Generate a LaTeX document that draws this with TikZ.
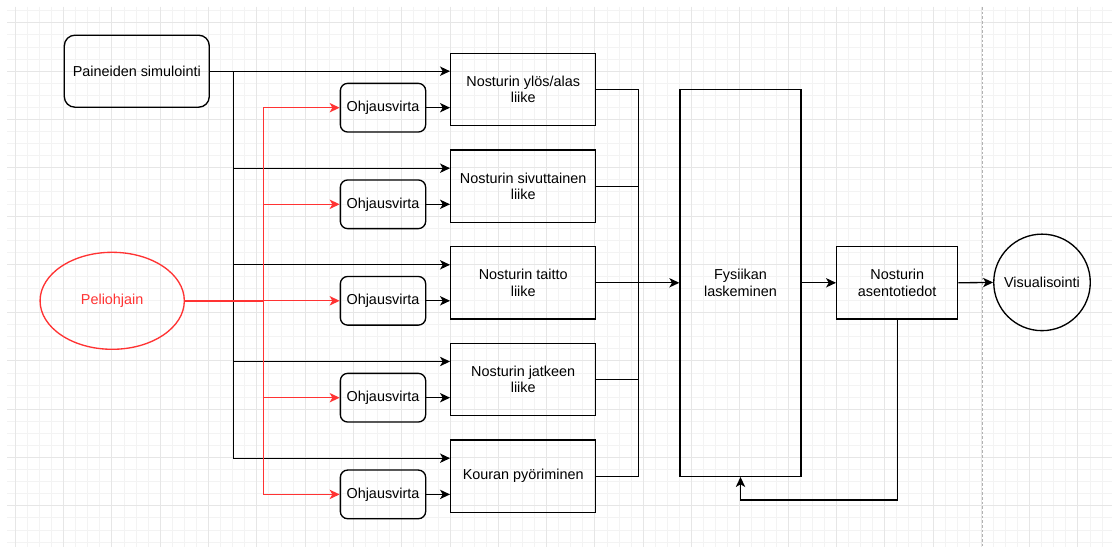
\documentclass[tikz,border=0pt]{standalone}
\usepackage{fontspec}
\setmainfont{Liberation Sans}
\usetikzlibrary{arrows.meta,shapes.geometric}
\definecolor{pelired}{HTML}{FF3333}
\definecolor{gridminor}{HTML}{F3F3F3}
\definecolor{gridmajor}{HTML}{E6E6E6}

\begin{document}
\begin{tikzpicture}[x=0.75pt,y=-0.75pt,
  font=\fontsize{10.8}{12.5}\selectfont,
  block/.style={draw, line width=1pt, align=center, inner sep=0pt},
  motion/.style={block, minimum width=108.75pt, minimum height=54.2pt},
  ctrl/.style={block, rounded corners=5.5pt, minimum width=64pt, minimum height=36.5pt},
  line/.style={draw, line width=1pt},
  flow/.style={line, ->, >={Stealth[length=7.5pt,width=7pt,inset=2pt]}},
  redflow/.style={flow, draw=pelired}]
\useasboundingbox (0,0) rectangle (1112,549);
\fill[white] (0,0) rectangle (1112,549);

% grid
\foreach \k in {1,...,91} \draw[gridminor,line width=0.75pt] ({3.3+12.075*\k},7) -- ({3.3+12.075*\k},547);
\foreach \k in {0,...,44} \draw[gridminor,line width=0.75pt] (7,{10.8+12.075*\k}) -- (1112,{10.8+12.075*\k});
\foreach \k in {1,5,...,89} \draw[gridmajor,line width=0.75pt] ({3.3+12.075*\k},7) -- ({3.3+12.075*\k},547);
\foreach \k in {1,5,...,41} \draw[gridmajor,line width=0.75pt] (7,{10.8+12.075*\k}) -- (1112,{10.8+12.075*\k});
\draw[black!30,line width=0.6pt,dash pattern=on 2pt off 1.5pt] (982.7,7) -- (982.7,547);

\node[block, rounded corners=8pt, minimum width=108.75pt, minimum height=54pt] (paine) at (136.8,71.2) {Paineiden simulointi};
\node[ellipse, draw=pelired, line width=1pt, text=pelired, inner sep=0pt, minimum width=108.2pt, minimum height=72.75pt] (peli) at (112.2,300.8) {Peliohjain};

\node[ctrl] (o1) at (383,107.7) {Ohjausvirta};
\node[ctrl] (o2) at (383,204.3) {Ohjausvirta};
\node[ctrl] (o3) at (383,300.8) {Ohjausvirta};
\node[ctrl] (o4) at (383,397.7) {Ohjausvirta};
\node[ctrl] (o5) at (383,494.4) {Ohjausvirta};

\node[motion] (m1) at (523.2,89.5) {Nosturin ylös/alas\\liike};
\node[motion] (m2) at (523.2,186.2) {Nosturin sivuttainen\\liike};
\node[motion] (m3) at (523.2,282.8) {Nosturin taitto\\liike};
\node[motion] (m4) at (523.2,379.5) {Nosturin jatkeen\\liike};
\node[motion] (m5) at (523.2,476.2) {Kouran pyöriminen};

\node[block, minimum width=90.75pt, minimum height=290.25pt] (fys) at (740.5,282.8) {Fysiikan\\laskeminen};
\node[block, minimum width=90.75pt, minimum height=54.2pt] (asento) at (897.2,282.8) {Nosturin\\asentotiedot};
\node[circle, draw, line width=1pt, inner sep=0pt, minimum size=72.4pt] (visu) at (1042,282.4) {Visualisointi};

\coordinate (bt) at (233.3,71.2);
\coordinate (rt) at (263.3,300.8);
\coordinate (bus) at (638.3,282.8);
\coordinate (fb) at (897.2,500);

\path[flow] (paine.east) -- (paine.east -| m1.west);
\path[flow] (paine.east) -- (bt) |- ([yshift=13.5pt]m2.west);
\path[flow] (paine.east) -- (bt) |- ([yshift=13.5pt]m3.west);
\path[flow] (paine.east) -- (bt) |- ([yshift=13.5pt]m4.west);
\path[flow] (paine.east) -- (bt) |- ([yshift=13.5pt]m5.west);

\path[line, draw=pelired, line width=1.6pt] (peli.east) -- (rt);
\path[redflow] (peli.east) -- (rt) |- (o1.west);
\path[redflow] (peli.east) -- (rt) |- (o2.west);
\path[redflow] (peli.east) -- (o3.west);
\path[redflow] (peli.east) -- (rt) |- (o4.west);
\path[redflow] (peli.east) -- (rt) |- (o5.west);

\path[flow] (o1.east) -- (o1.east -| m1.west);
\path[flow] (o2.east) -- (o2.east -| m2.west);
\path[flow] (o3.east) -- (o3.east -| m3.west);
\path[flow] (o4.east) -- (o4.east -| m4.west);
\path[flow] (o5.east) -- (o5.east -| m5.west);

\path[line] (m1.east) -| (bus);
\path[line] (m2.east) -| (bus);
\path[line] (m4.east) -| (bus);
\path[line] (m5.east) -| (bus);
\path[flow] (m3.east) -- (fys.west);

\path[flow] (fys.east) -- (asento.west);
\path[flow] (asento.east) -- (visu.west);
\path[flow] (asento.south) -- (fb) -| (fys.south);
\end{tikzpicture}
\end{document}
